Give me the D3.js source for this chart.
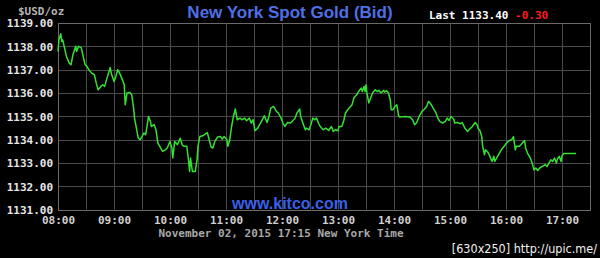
<!DOCTYPE html>
<html>
<head>
<meta charset="utf-8">
<script src="https://cdn.jsdelivr.net/npm/d3@7"></script>
<style>
  html, body { margin: 0; padding: 0; background: #000; }
  svg { display: block; }
</style>
</head>
<body>
<div id="chart"></div>
<script>
// ---- data ----
const times = ["08:00","08:01","08:03","08:04","08:05","08:07","08:09","08:12","08:14","08:16","08:19","08:20","08:22","08:25","08:27","08:29","08:31","08:33","08:36","08:39","08:41","08:43","08:46","08:48","08:50","08:52","08:56","08:57",
  "09:00","09:02","09:04","09:06","09:09","09:11","09:12","09:14","09:17","09:19","09:21","09:22","09:24","09:26","09:28","09:30","09:32","09:34","09:37","09:39","09:40","09:43","09:45","09:47","09:50","09:52","09:55","09:57",
  "10:00","10:02","10:03","10:05","10:08","10:11","10:13","10:15","10:18","10:20","10:21","10:22","10:24","10:27","10:29","10:30","10:32","10:35","10:37","10:40","10:42","10:44","10:46","10:48","10:51","10:54","10:56","10:58",
  "11:01","11:02","11:04","11:06","11:08","11:10","11:12","11:15","11:17","11:20","11:22","11:25","11:27","11:29","11:31","11:34","11:36","11:39","11:41","11:44","11:46","11:48","11:51","11:54","11:56","11:59",
  "12:01","12:03","12:06","12:09","12:11","12:14","12:16","12:19","12:20","12:23","12:25","12:26","12:29","12:31","12:33","12:35","12:37","12:39","12:41","12:44","12:47","12:50","12:53","12:55","12:57",
  "13:00","13:01","13:04","13:06","13:08","13:11","13:15","13:17","13:20","13:22","13:25","13:26","13:28","13:29","13:30","13:31","13:33","13:35","13:37","13:40","13:42","13:44","13:46","13:49","13:50","13:52","13:54","13:56","13:57","13:59",
  "14:01","14:03","14:05","14:06","14:12","14:17","14:20","14:22","14:24","14:27","14:30","14:32","14:35","14:37","14:40","14:42","14:45","14:47","14:49","14:52","14:55","14:57","14:59",
  "15:01","15:04","15:05","15:08","15:11","15:13","15:16","15:19","15:21","15:24","15:27","15:29","15:30","15:32","15:34","15:35","15:37","15:38","15:40","15:42","15:45","15:47","15:48","15:50","15:52","15:55","15:58",
  "16:00","16:02","16:04","16:06","16:08","16:10","16:11","16:14","16:16","16:18","16:20","16:21","16:23","16:26","16:28","16:30","16:32","16:34","16:36","16:39","16:42","16:44","16:46","16:48","16:50","16:52","16:54","16:55","16:57","16:59",
  "17:00","17:02","17:15"]

const bids = [1137.78,1138.28,1138.54,1138.21,1138.28,1137.93,1137.57,1137.28,1137.21,1137.64,1138.00,1137.78,1138.00,1137.93,1137.57,1137.21,1137.14,1137.00,1136.85,1136.78,1136.42,1136.14,1136.28,1136.35,1136.28,1136.57,1137.09,1136.85,
  1136.49,1136.71,1137.00,1136.85,1136.57,1136.35,1135.49,1136.00,1136.02,1135.92,1135.35,1134.92,1134.49,1134.06,1133.99,1134.13,1134.28,1134.21,1134.99,1134.78,1134.56,1134.64,1134.42,1133.85,1133.64,1133.49,1133.56,1133.64,
  1133.92,1133.64,1133.21,1133.92,1133.78,1134.06,1133.78,1133.71,1133.71,1133.06,1132.63,1133.21,1132.63,1132.63,1133.13,1133.71,1134.13,1134.16,1134.21,1134.30,1133.99,1133.68,1133.64,1133.92,1134.11,1134.13,1134.02,1134.13,
  1133.99,1133.71,1133.99,1134.56,1134.99,1135.31,1134.85,1134.92,1134.85,1134.92,1134.81,1134.92,1134.71,1134.85,1134.38,1134.49,1134.64,1134.85,1135.02,1134.73,1134.99,1135.35,1135.42,1135.21,1135.14,1134.92,
  1134.71,1134.56,1134.73,1134.71,1134.78,1134.92,1135.14,1135.31,1134.99,1134.64,1134.42,1134.49,1134.42,1134.64,1134.92,1134.85,1134.92,1134.71,1134.56,1134.42,1134.49,1134.39,1134.56,1134.35,1134.42,
  1134.38,1134.56,1134.56,1134.78,1135.14,1135.31,1135.49,1135.78,1135.92,1136.06,1136.21,1136.06,1136.28,1136.06,1136.35,1136.00,1135.57,1135.78,1136.00,1136.14,1136.06,1136.11,1136.00,1136.11,1136.04,1136.09,1136.00,1135.71,1135.28,1135.28,
  1135.42,1135.49,1135.02,1134.97,1134.99,1134.97,1134.85,1134.64,1134.71,1134.99,1135.21,1135.28,1135.42,1135.64,1135.49,1135.35,1135.14,1134.92,1134.78,1134.71,1134.78,1134.92,1134.82,
  1134.99,1134.88,1134.71,1134.73,1134.68,1134.73,1134.49,1134.35,1134.45,1134.56,1134.73,1134.64,1134.49,1134.39,1134.13,1133.71,1133.35,1133.56,1133.49,1133.35,1133.06,1133.28,1133.06,1133.21,1133.35,1133.56,1133.71,
  1133.82,1133.92,1133.96,1133.99,1134.13,1133.56,1133.71,1133.71,1133.78,1133.88,1133.96,1133.64,1133.42,1133.21,1132.99,1132.70,1132.78,1132.67,1132.78,1132.85,1132.92,1132.85,1132.99,1133.13,1133.06,1133.21,1132.99,1133.16,1133.28,1133.06,
  1133.30,1133.40,1133.40]

const priceTicks = [1131, 1132, 1133, 1134, 1135, 1136, 1137, 1138, 1139]
const hourTicks = ["08:00","09:00","10:00","11:00","12:00","13:00","14:00","15:00","16:00","17:00"]
const halfHourGrid = ["08:30","09:30","10:30","11:30","12:30","13:30","14:30","15:30","16:30","17:30"]
const lastPrice = "1133.40"
const change = "-0.30"

const width = 600,
      height = 258,
      plot = {left: 58, right: 590, top: 23, bottom: 209.5},
      mono = "'DejaVu Sans Mono', 'Liberation Mono', monospace",
      sans = "'Liberation Sans', Arial, sans-serif"

const parseTime = d3.timeParse('%H:%M')

const svg = d3.select('#chart')
  .append('svg')
  .attr('width', width)
  .attr('height', height)
  .style('background', '#000')

const x = d3.scaleTime()
  .domain([parseTime('08:00'), parseTime('17:30')])
  .range([plot.left, plot.right])

const y = d3.scaleLinear()
  .domain([1131, 1139])
  .range([plot.bottom, plot.top])

// grid
const grid = svg.append('g')
grid.selectAll('line.h')
  .data(priceTicks)
  .join('line')
  .attr('x1', plot.left).attr('x2', plot.right)
  .attr('y1', d => Math.round(y(d)) + 0.5).attr('y2', d => Math.round(y(d)) + 0.5)
  .style('stroke', '#4a4a4a')

grid.selectAll('line.v')
  .data(hourTicks.concat(halfHourGrid))
  .join('line')
  .attr('x1', d => Math.round(x(parseTime(d))) + 0.5).attr('x2', d => Math.round(x(parseTime(d))) + 0.5)
  .attr('y1', plot.top).attr('y2', plot.bottom)
  .style('stroke', '#4a4a4a')

svg.append('rect')
  .attr('x', plot.left + 0.5)
  .attr('y', Math.round(plot.top) + 0.5)
  .attr('width', plot.right - plot.left)
  .attr('height', Math.round(plot.bottom) - Math.round(plot.top))
  .style('fill', 'none')
  .style('stroke', '#6a6a6a')

// y axis labels
const yAxis = svg.append('g')
  .attr('transform', `translate(${plot.left - 5},0)`)
  .call(d3.axisLeft(y).tickValues(priceTicks).tickFormat(d3.format('.2f')).tickSize(0).tickPadding(0))
yAxis.select('.domain').remove()
yAxis.selectAll('text')
  .attr('dy', '0.35em')
  .style('font-family', mono)
  .style('font-weight', 'bold')
  .style('font-size', '11px')
  .style('fill', '#e6e6e6')

// x axis labels
const xAxis = svg.append('g')
  .attr('transform', `translate(0,${plot.bottom + 6})`)
  .call(d3.axisBottom(x).tickValues(hourTicks.map(parseTime)).tickFormat(d3.timeFormat('%H:%M')).tickSize(0).tickPadding(0))
xAxis.select('.domain').remove()
xAxis.selectAll('text')
  .attr('dy', '0.8em')
  .style('font-family', mono)
  .style('font-weight', 'bold')
  .style('font-size', '11px')
  .style('fill', '#cfcfcf')

// watermark inside plot
svg.append('text')
  .attr('x', 290).attr('y', 209)
  .attr('text-anchor', 'middle')
  .style('font-family', sans)
  .style('font-weight', 'bold')
  .style('font-size', '16px')
  .style('fill', '#3a5fe8')
  .text('www.kitco.com')

// price line
const line = d3.line()
  .x((d, i) => x(parseTime(times[i])))
  .y(d => y(d))

svg.append('path')
  .datum(bids)
  .attr('d', line)
  .style('fill', 'none')
  .style('stroke', '#33e033')
  .style('stroke-width', 1.5)
  .style('stroke-linejoin', 'round')

// header
svg.append('text')
  .attr('x', 18).attr('y', 15)
  .style('font-family', mono)
  .style('font-weight', 'bold')
  .style('font-size', '11px')
  .style('fill', '#b4b4b4')
  .text('$USD/oz')

svg.append('text')
  .attr('x', 290).attr('y', 18)
  .attr('text-anchor', 'middle')
  .style('font-family', sans)
  .style('font-weight', 'bold')
  .style('font-size', '17px')
  .style('fill', '#4f6fe6')
  .text('New York Spot Gold (Bid)')

const last = svg.append('text')
  .attr('x', 429).attr('y', 19)
  .style('font-family', mono)
  .style('font-weight', 'bold')
  .style('font-size', '11px')
last.append('tspan').style('fill', '#ffffff').text('Last ' + lastPrice + ' ')
last.append('tspan').style('fill', '#ff1a1a').text(change)

// footer
svg.append('text')
  .attr('x', 281).attr('y', 237)
  .attr('text-anchor', 'middle')
  .style('font-family', mono)
  .style('font-weight', 'bold')
  .style('font-size', '11px')
  .style('fill', '#a8a8a8')
  .text('November 02, 2015 17:15 New York Time')

svg.append('text')
  .attr('x', 597).attr('y', 253)
  .attr('text-anchor', 'end')
  .style('font-family', "'Liberation Sans Narrow', 'DejaVu Sans Condensed', sans-serif")
  .style('font-size', '12.5px')
  .style('fill', '#f0f0f0')
  .text('[630x250] http://upic.me/')
</script>
</body>
</html>
